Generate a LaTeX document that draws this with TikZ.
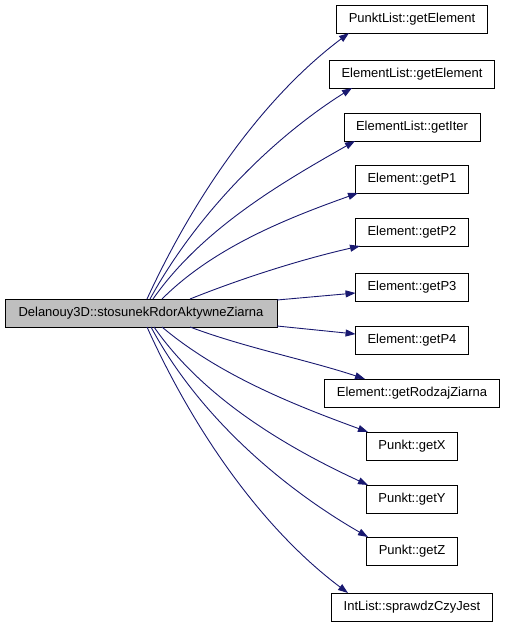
\documentclass[tikz,border=0pt]{standalone}
\usepackage{fontspec}
\setmainfont{Liberation Sans}
\usetikzlibrary{arrows.meta}
\definecolor{edgeblue}{HTML}{191970}
\tikzset{
  fn/.style={draw=black, line width=0.9pt, minimum height=28pt, inner xsep=12pt,
    inner ysep=0pt, outer sep=0pt, font=\fontsize{13}{15}\selectfont},
  cur/.style={fn, fill=black!25, inner xsep=13.5pt},
  call/.style={draw=edgeblue, line width=0.9pt, -{Triangle[length=10pt,width=7pt]}}
}
\begin{document}
\begin{tikzpicture}[x=1pt,y=-1pt]
\useasboundingbox (0,0) rectangle (504,627);
% caller
\node[cur] (main) at (141,313) {Delanouy3D::stosunekRdorAktywneZiarna};
% callees
\node[fn] (pkGetElem) at (412,19) {PunktList::getElement};
\node[fn] (elGetElem) at (412,74) {ElementList::getElement};
\node[fn] (elGetIter) at (412,127) {ElementList::getIter};
\node[fn] (getPa) at (412,179) {Element::getP1};
\node[fn] (getPb) at (412,232) {Element::getP2};
\node[fn] (getPc) at (412,287) {Element::getP3};
\node[fn] (getPd) at (412,340) {Element::getP4};
\node[fn] (getRodzaj) at (412,393) {Element::getRodzajZiarna};
\node[fn] (getX) at (412,446) {Punkt::getX};
\node[fn] (getY) at (412,499) {Punkt::getY};
\node[fn] (getZ) at (412,551) {Punkt::getZ};
\node[fn] (sprawdz) at (412,607) {IntList::sprawdzCzyJest};
% calls upwards
\draw[call] ([xshift=6pt]main.north) .. controls +(46,-100) and +(-88,66) .. ([xshift=-63pt]pkGetElem.south);
\draw[call] ([xshift=9pt]main.north) .. controls +(46,-84) and +(-81,51) .. ([xshift=-60pt]elGetElem.south);
\draw[call] ([xshift=12pt]main.north) .. controls +(49,-70) and +(-74,42) .. ([xshift=-57pt]elGetIter.south);
\draw[call] ([xshift=21pt]main.north) .. controls +(52,-52) and +(-70,25) .. ([xshift=-54pt]getPa.south);
\draw[call] ([xshift=49pt]main.north) .. controls +(55,-22) and +(-57,13) .. ([xshift=-52pt]getPb.south);
\draw[call] ([yshift=-1pt]main.north east) -- ([yshift=-6pt]getPc.west);
\draw[call] ([yshift=1pt]main.south east) -- ([yshift=6pt]getPd.west);
% calls downwards
\draw[call] ([xshift=49pt]main.south) .. controls +(56,21) and +(-57,-19) .. ([xshift=-47pt]getRodzaj.north);
\draw[call] ([xshift=21pt]main.south) .. controls +(58,49) and +(-71,-26) .. ([xshift=-44pt]getX.north);
\draw[call] ([xshift=13pt]main.south) .. controls +(50,72) and +(-80,-37) .. ([xshift=-44pt]getY.north);
\draw[call] ([xshift=10pt]main.south) .. controls +(47,88) and +(-87,-50) .. ([xshift=-44pt]getZ.north);
\draw[call] ([xshift=6pt]main.south) .. controls +(45,100) and +(-88,-66) .. ([xshift=-64pt]sprawdz.north);
\end{tikzpicture}
\end{document}
